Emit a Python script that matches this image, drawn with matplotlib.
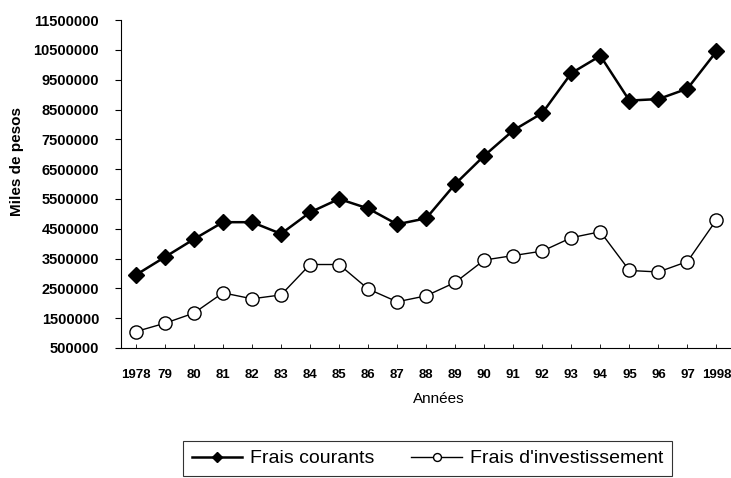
import numpy as np
import matplotlib
matplotlib.use('Agg')
import matplotlib.pyplot as plt

plt.rcParams['font.family'] = ['Liberation Sans', 'DejaVu Sans']

# data
years = ['1978', '79', '80', '81', '82', '83', '84', '85', '86', '87', '88',
         '89', '90', '91', '92', '93', '94', '95', '96', '97', '1998']
frais_courants = [2950000, 3550000, 4150000, 4720000, 4720000, 4330000, 5050000,
                  5500000, 5180000, 4650000, 4850000, 6000000, 6950000, 7800000,
                  8380000, 9720000, 10300000, 8800000, 8850000, 9200000, 10450000]
frais_invest = [1050000, 1330000, 1670000, 2350000, 2150000, 2280000, 3300000,
                3300000, 2480000, 2050000, 2250000, 2700000, 3450000, 3600000,
                3750000, 4200000, 4400000, 3100000, 3050000, 3400000, 4800000]
yticks = np.arange(500000, 11500001, 1000000)

fig = plt.figure(figsize=(7.31, 4.78), dpi=100)
ax = fig.add_axes([0.166, 0.272, 0.834, 0.686])

x = np.arange(len(years))
l1, = ax.plot(x, frais_courants, color='black', lw=1.8, marker='D',
              markersize=8, markerfacecolor='black', label='Frais courants')
l2, = ax.plot(x, frais_invest, color='black', lw=1.0, marker='o',
              markersize=9.5, markerfacecolor='white', markeredgewidth=1.0,
              label="Frais d'investissement")

ax.set_xlim(-0.5, len(years) - 0.5)
ax.set_ylim(500000, 11500000)
ax.set_yticks(yticks)
ax.set_yticklabels([str(v) for v in yticks], fontsize=10.5, fontweight='bold')
ax.set_xticks(x)
ax.set_xticklabels(years, fontsize=9.5, fontweight='bold')
ax.tick_params(axis='y', direction='out', length=4, width=0.8, pad=12)
ax.tick_params(axis='x', direction='in', length=3, width=0.6, pad=15)

for s in ['top', 'right']:
    ax.spines[s].set_visible(False)
for s in ['left', 'bottom']:
    ax.spines[s].set_linewidth(0.8)

ax.set_ylabel('Miles de pesos', fontsize=11, fontweight='bold', labelpad=0)
ax.yaxis.set_label_coords(-0.16, 0.57)
ax.set_xlabel('Années', fontsize=11)
ax.xaxis.set_label_coords(0.52, -0.135)

leg = fig.legend(handles=[l1, l2], loc='upper left',
                 bbox_to_anchor=(183 / 731, 1 - 441 / 478), ncol=2,
                 fontsize=14, frameon=True, fancybox=False, handlelength=2.6,
                 handletextpad=0.4, columnspacing=1.9, borderpad=0.45,
                 borderaxespad=0, markerscale=0.6)
leg.get_frame().set_edgecolor('black')
leg.get_frame().set_linewidth(0.8)

fig.savefig('out.png', dpi=100)
